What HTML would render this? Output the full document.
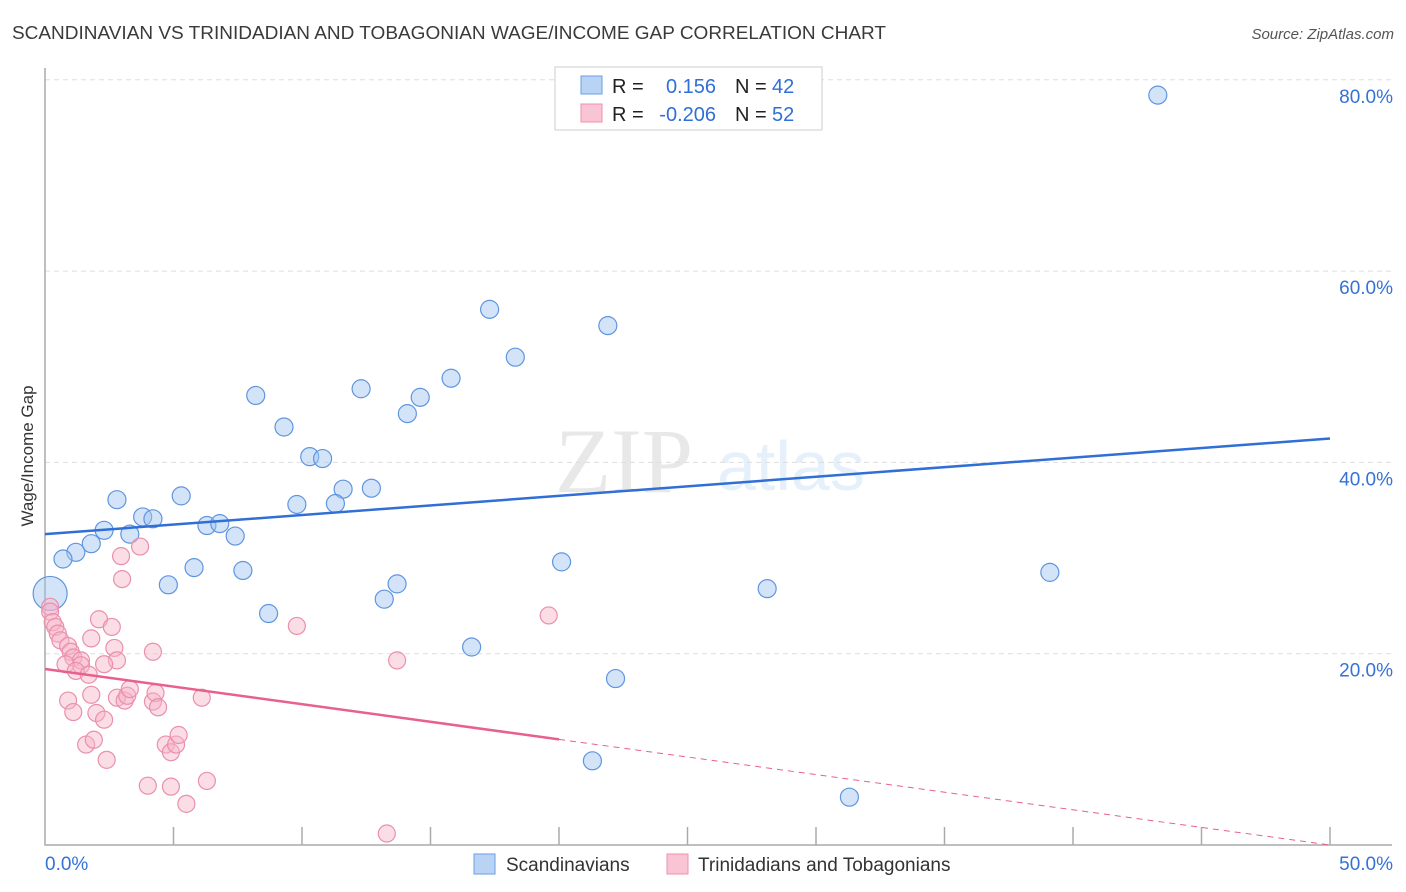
<!DOCTYPE html>
<html><head><meta charset="utf-8"><style>
body{margin:0;background:#fff;font-family:"Liberation Sans",sans-serif;}
svg{display:block}
</style></head><body>
<svg id="chart" width="1406" height="892" xmlns="http://www.w3.org/2000/svg">
<text x="12" y="39" font-size="18" fill="#3a3a3a" textLength="874" lengthAdjust="spacingAndGlyphs">SCANDINAVIAN VS TRINIDADIAN AND TOBAGONIAN WAGE/INCOME GAP CORRELATION CHART</text>
<text x="1394" y="39" font-size="15" fill="#555" font-style="italic" text-anchor="end">Source: ZipAtlas.com</text>
<text transform="translate(33,456) rotate(-90)" font-size="17" fill="#333" text-anchor="middle">Wage/Income Gap</text>
<g opacity="0.13">
<text x="555" y="492" font-size="92" font-family="Liberation Serif,serif" fill="#555">ZIP</text>
<text x="717" y="490" font-size="70" fill="#4a8fe0">atlas</text>
</g>
<g id="grid"></g><g id="pts"></g><g id="trend"></g>
<g>
<rect x="555" y="67" width="267" height="63" fill="#fff" stroke="#ccc"/>
<rect x="581" y="76" width="21" height="18" fill="#b9d3f5" stroke="#6a9ee6"/>
<rect x="581" y="104" width="21" height="18" fill="#f9c5d4" stroke="#ee8fae"/>
<text x="612" y="93" font-size="20" fill="#222">R =</text><text x="716" y="93" font-size="20" fill="#2f6fd6" text-anchor="end">0.156</text>
<text x="735" y="93" font-size="20" fill="#222">N =</text><text x="772" y="93" font-size="20" fill="#2f6fd6">42</text>
<text x="612" y="121" font-size="20" fill="#222">R =</text><text x="716" y="121" font-size="20" fill="#2f6fd6" text-anchor="end">-0.206</text>
<text x="735" y="121" font-size="20" fill="#222">N =</text><text x="772" y="121" font-size="20" fill="#2f6fd6">52</text>
</g>
<g>
<rect x="474" y="854" width="21" height="20" fill="#b9d3f5" stroke="#6a9ee6"/>
<text x="506" y="871" font-size="19" fill="#333">Scandinavians</text>
<rect x="667" y="854" width="21" height="20" fill="#f9c5d4" stroke="#ee8fae"/>
<text x="698" y="871" font-size="19" fill="#333">Trinidadians and Tobagonians</text>
</g>
</svg>
<script>
const yTicks=[20,40,60,80];
const xTickLabels=["0.0%","50.0%"];
const blueX=[43.3,17.3,21.9,18.3,12.3,15.8,8.2,14.6,14.1,9.3,10.3,10.8,2.8,5.3,11.6,12.7,9.8,11.3,3.8,4.2,2.3,6.3,6.8,3.3,7.4,1.8,1.2,0.7,20.1,5.8,4.8,7.7,13.7,13.2,28.1,39.1,0.2,8.7,16.6,22.2,21.3,31.3];
const blueY=[78.4,56.0,54.3,51.0,47.7,48.8,47.0,46.8,45.1,43.7,40.6,40.4,36.1,36.5,37.2,37.3,35.6,35.7,34.3,34.1,32.9,33.4,33.6,32.5,32.3,31.5,30.6,29.9,29.6,29.0,27.2,28.7,27.3,25.7,26.8,28.5,26.3,24.2,20.7,17.4,8.8,5.0];
const blueR=[9,9,9,9,9,9,9,9,9,9,9,9,9,9,9,9,9,9,9,9,9,9,9,9,9,9,9,9,9,9,9,9,9,9,9,9,17,9,9,9,9,9];
const pinkX=[0.2,0.2,0.3,0.4,0.5,0.6,0.9,1.0,1.1,1.4,1.4,0.8,1.2,1.7,1.8,2.1,2.6,2.7,2.8,2.3,2.96,3.7,3.0,4.2,0.9,1.1,1.8,2.0,2.3,2.8,3.1,3.2,3.3,4.2,4.3,4.4,1.6,1.9,2.4,4.7,4.9,5.1,5.2,4.0,4.9,6.3,5.5,6.1,9.8,13.7,19.6,13.3];
const pinkY=[24.9,24.4,23.3,22.8,22.1,21.4,20.8,20.2,19.6,19.3,18.8,18.9,18.2,17.8,21.6,23.6,22.8,20.6,19.3,18.9,30.2,31.2,27.8,20.2,15.1,13.9,15.7,13.8,13.1,15.4,15.1,15.6,16.3,15.0,15.9,14.4,10.5,11.0,8.9,10.5,9.7,10.5,11.5,6.2,6.1,6.7,4.3,15.4,22.9,19.3,24.0,1.2];
const blueTrend=[32.5,42.5];
const pinkTrend=[18.4,0];
const pinkSolidEnd=20;
const NS="http://www.w3.org/2000/svg";
const xs=v=>45+v*25.7, ys=v=>845-v*9.565;
function mk(t,a,p){const e=document.createElementNS(NS,t);for(const k in a)e.setAttribute(k,a[k]);p.appendChild(e);return e;}
const g=document.getElementById('grid');
yTicks.forEach(v=>{
 const l=mk('line',{x1:45,x2:1392,y1:ys(v),y2:ys(v),stroke:'#ddd','stroke-dasharray':'5,4'},g);
 
 
 const t=mk('text',{x:1393,y:ys(v)+23,'font-size':19,fill:'#3572d6','text-anchor':'end'},g);
 t.textContent=v.toFixed(1)+'%';
 
 
});
const ax=mk('path',{d:'M45,68 V845 H1392',fill:'none',stroke:'#aaa','stroke-width':1.5},g);


for(let i=1;i<=10;i++){const tk=mk('line',{x1:xs(i*5),x2:xs(i*5),y1:827,y2:845,stroke:'#aaa','stroke-width':1.5},g);
 
 }
[[0,'start',45],[50,'end',1393]].forEach((d,i)=>{const t=mk('text',{x:d[2],y:870,'font-size':19,fill:'#3572d6','text-anchor':d[1]},g);t.textContent=xTickLabels[i];
 
 });
const p=document.getElementById('pts');
blueX.forEach((x,i)=>{const c=mk('circle',{cx:xs(x),cy:ys(blueY[i]),r:blueR[i],fill:'rgba(160,195,240,0.45)',stroke:'#5f95e0','stroke-width':1.2},p);
 
 });
pinkX.forEach((x,i)=>{const c=mk('circle',{cx:xs(x),cy:ys(pinkY[i]),r:8.5,fill:'rgba(247,180,200,0.45)',stroke:'#ea8fae','stroke-width':1.2},p);
 
 });
const tr=document.getElementById('trend');
const bl=mk('line',{x1:xs(0),y1:ys(blueTrend[0]),x2:xs(50),y2:ys(blueTrend[1]),stroke:'#2f6fd6','stroke-width':2.5},tr);


const py=x=>pinkTrend[0]+(pinkTrend[1]-pinkTrend[0])*x/50;
const pl=mk('line',{x1:xs(0),y1:ys(py(0)),x2:xs(pinkSolidEnd),y2:ys(py(pinkSolidEnd)),stroke:'#e8608d','stroke-width':2.5},tr);


const pd=mk('line',{x1:xs(pinkSolidEnd),y1:ys(py(pinkSolidEnd)),x2:xs(50),y2:ys(py(50)),stroke:'#e8608d','stroke-width':1,'stroke-dasharray':'6,5'},tr);


</script>
</body></html>
